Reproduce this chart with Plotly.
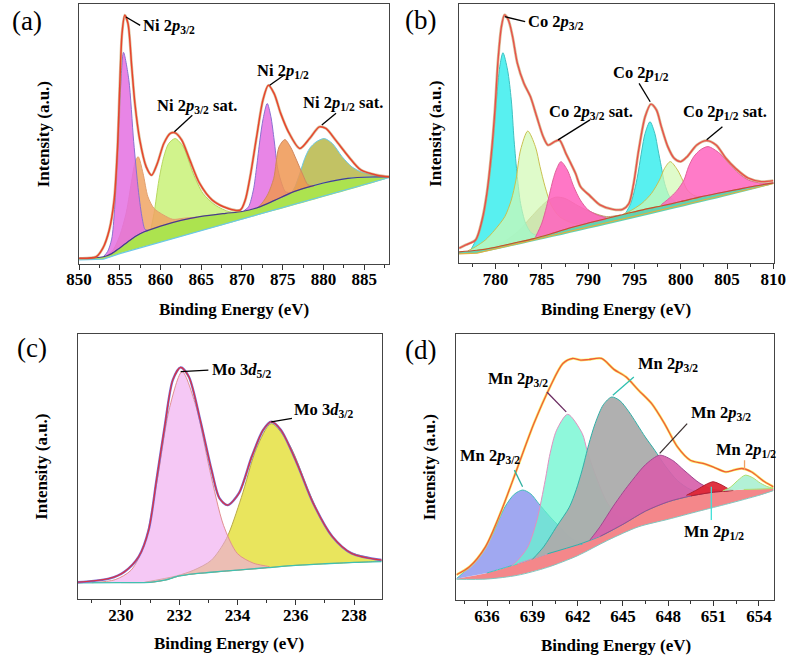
import plotly.graph_objects as go

FONT = "Liberation Serif"

# ================= (a) Ni 2p =================
NI_TICKS = [850, 855, 860, 865, 870, 875, 880, 885]
NI_ENV_X = [850.0, 852.1, 852.9, 853.7, 854.3, 854.7, 855.0, 855.27, 855.6, 856.0, 856.46, 856.85, 857.45,
            858.24, 858.9, 859.6, 860.4, 861.2, 861.8, 862.6, 863.6, 864.8, 866.35, 868.3, 869.8, 870.4,
            871.0, 871.8, 872.57, 873.24, 873.95, 874.75, 875.7, 877.1, 878.3, 879.5, 880.3, 881.5,
            883.1, 884.6, 886.6, 888.1]
NI_ENV_Y = [2.2, 2.8, 6.0, 13.1, 24.6, 43.8, 69.5, 88.7, 95.8, 92.6, 75.9, 61.8, 47.7, 37.4, 34.2, 38.7,
            46.4, 50.3, 50.5, 47.7, 40.0, 31.0, 24.6, 21.4, 20.8, 24.6, 33.6, 49.0, 63.1, 68.8, 65.6,
            58.0, 50.9, 44.5, 48.3, 52.8, 52.2, 47.7, 41.3, 36.2, 34.2, 33.6]
NI_LIN_X = [850, 853, 855, 888.1]
NI_LIN_Y = [1.6, 1.9, 4.0, 33.3]
NI_SHIR_X = [850, 852, 853, 854, 855, 856, 857, 858, 860, 862.5, 865, 868, 870, 872, 874, 876, 878, 880,
             883, 886, 888.1]
NI_SHIR_Y = [2.2, 2.4, 2.8, 4.0, 6.2, 8.6, 10.8, 12.4, 14.6, 16.8, 18.3, 19.5, 20.2, 21.8, 24.5, 27.4,
             29.5, 31.2, 33.0, 33.5, 33.5]
NI_P1_X = [853.0, 853.5, 854.0, 854.35, 854.7, 855.1, 855.45, 856.1, 856.7, 857.3, 857.75, 858.1, 858.5]
NI_P1_Y = [2.9, 4.8, 9.6, 21.0, 42.3, 68.6, 81.5, 71.0, 47.1, 27.6, 17.5, 13.3, 12.9]
NI_O1_X = [853.5, 854.2, 855.0, 855.8, 856.5, 856.9, 857.25, 857.85, 858.45, 859.2, 860.4, 861.5, 862.8, 864.5]
NI_O1_Y = [3.3, 5.5, 11.0, 20.0, 33.0, 39.5, 41.3, 34.9, 25.9, 21.4, 18.8, 17.2, 17.6, 18.0]
NI_S1_X = [858.8, 859.2, 859.8, 860.4, 861.0, 861.8, 862.8, 864.0, 865.2, 866.7, 868.5, 870.0]
NI_S1_Y = [13.3, 19.5, 32.3, 41.3, 46.4, 48.3, 45.1, 34.9, 27.2, 22.7, 20.1, 20.2]
NI_P2_X = [870.2, 870.8, 871.4, 871.8, 872.2, 872.6, 873.1, 873.55, 873.95, 874.35, 874.75, 875.35, 876.0]
NI_P2_Y = [20.4, 22.0, 28.5, 37.4, 47.7, 56.0, 61.8, 56.7, 47.7, 37.4, 32.3, 27.8, 27.4]
NI_O2_X = [872.0, 872.6, 873.2, 873.9, 874.55, 875.27, 875.95, 876.7, 877.5, 878.1, 878.8]
NI_O2_Y = [21.8, 24.0, 27.0, 33.0, 45.1, 47.9, 45.1, 40.0, 34.2, 30.5, 30.0]
NI_S2_X = [876.1, 876.5, 877.1, 877.7, 878.3, 879.1, 880.1, 881.1, 882.3, 883.5, 884.6, 886.2, 888.1]
NI_S2_Y = [27.6, 29.7, 34.9, 40.6, 44.5, 47.0, 48.3, 46.4, 41.3, 37.4, 35.5, 34.2, 33.5]

# ================= (b) Co 2p =================
CO_TICKS = [780, 785, 790, 795, 800, 805, 810]
CO_ENV_X = [776.06, 776.8, 777.84, 778.54, 779.06, 779.58, 779.93, 780.27, 780.63, 780.97, 781.39, 781.84,
            782.36, 783.06, 783.76, 784.45, 785.15, 785.67, 786.37, 786.9, 787.59, 788.63, 789.19, 790.2,
            791.28, 792.67, 793.72, 794.4, 794.9, 795.46, 796.15, 796.78, 797.38, 797.9, 798.6, 799.29,
            799.99, 800.69, 801.73, 802.78, 803.82, 804.87, 805.91, 807.3, 808.69, 810.0]
CO_ENV_Y = [5.8, 7.1, 9.0, 16.7, 27.0, 43.7, 59.1, 78.4, 91.2, 95.8, 93.8, 87.4, 77.1, 69.4, 64.3, 56.5,
            48.8, 45.6, 46.9, 47.5, 42.4, 34.7, 29.5, 26.0, 22.5, 20.8, 20.8, 23.0, 30.5, 43.7, 56.5, 61.4,
            59.1, 52.7, 45.0, 40.5, 39.2, 41.1, 45.6, 47.3, 45.6, 40.5, 36.6, 32.8, 31.5, 31.9]
CO_LIN_X = [776, 778, 810.05]
CO_LIN_Y = [3.6, 3.9, 30.8]
CO_SHIR_X = [776, 778, 780, 782, 784, 786, 788, 790, 792, 794, 796, 798, 800, 802, 804, 806, 808, 810.05]
CO_SHIR_Y = [4.4, 5.0, 6.2, 7.8, 9.4, 11.4, 13.6, 15.5, 17.3, 19.0, 20.7, 22.2, 23.8, 25.5, 27.0, 28.4,
             29.8, 31.0]
CO_C1_X = [777.3, 777.7, 778.2, 778.7, 779.2, 779.6, 780.1, 780.45, 780.8, 781.3, 781.7, 782.0, 782.35,
           782.7, 783.25, 783.9, 784.8, 785.6]
CO_C1_Y = [5.0, 7.7, 11.6, 18.0, 29.5, 41.1, 63.0, 75.8, 81.2, 74.5, 63.0, 47.5, 33.4, 23.1, 15.4, 11.6,
           10.6, 11.0]
CO_G1_X = [777.0, 777.85, 778.9, 779.9, 781.0, 781.7, 782.2, 782.7, 783.48, 784.3, 784.8, 785.35, 786.0,
           786.9, 788.3, 789.5]
CO_G1_Y = [4.8, 6.4, 9.0, 12.8, 18.0, 24.4, 32.1, 43.7, 51.0, 45.0, 37.3, 29.5, 22.5, 18.0, 15.5, 15.0]
CO_T_X = [779.5, 781.0, 782.5, 784.0, 785.5, 786.5, 787.5, 789.0, 790.5, 792.0, 793.5]
CO_T_Y = [6.0, 8.5, 12.5, 18.5, 23.8, 25.5, 25.0, 22.0, 19.5, 18.0, 18.6]
CO_P1_X = [784.3, 785.0, 785.5, 785.85, 786.2, 786.55, 787.06, 787.75, 788.45, 789.15, 790.0, 791.0, 792.0]
CO_P1_Y = [10.0, 15.5, 21.8, 27.0, 32.1, 36.0, 39.2, 36.0, 29.5, 24.4, 20.6, 18.6, 17.3]
CO_C2_X = [794.0, 794.6, 795.1, 795.45, 795.8, 796.15, 796.68, 797.2, 797.55, 797.9, 798.25, 798.8, 799.5]
CO_C2_Y = [19.0, 23.1, 29.5, 36.0, 43.7, 50.1, 54.6, 50.1, 43.7, 37.3, 30.9, 25.7, 23.3]
CO_G2_X = [793.8, 794.4, 795.8, 796.85, 797.7, 798.25, 798.87, 799.65, 800.2, 800.7, 801.4, 802.0]
CO_G2_Y = [19.0, 19.9, 23.1, 27.0, 32.1, 36.6, 39.2, 36.0, 32.1, 28.3, 26.2, 25.5]
CO_P2_X = [797.9, 798.95, 799.65, 800.35, 800.85, 801.4, 802.1, 802.95, 804.2, 805.2, 806.25, 807.3,
           808.7, 810.0]
CO_P2_Y = [22.6, 25.7, 28.3, 32.1, 37.3, 41.1, 43.7, 45.0, 42.4, 38.6, 34.7, 32.1, 30.9, 31.0]

# ================= (c) Mo 3d =================
MO_TICKS = [230, 232, 234, 236, 238]
MO_ENV_X = [228.51, 229.62, 230.12, 230.61, 230.95, 231.22, 231.5, 231.78, 232.05, 232.33, 232.72, 233.11,
            233.38, 233.66, 234.05, 234.49, 234.88, 235.16, 235.49, 236.04, 236.6, 237.26, 237.92, 238.95]
MO_ENV_Y = [6.4, 7.9, 10.4, 16.1, 26.1, 45.0, 65.1, 82.7, 87.4, 83.9, 67.6, 48.7, 38.1, 35.5, 40.0, 53.8,
            63.8, 66.9, 63.8, 51.3, 36.2, 23.6, 17.3, 14.8]
MO_BG_X = [228.5, 230, 231, 231.5, 232, 232.5, 233, 234, 235, 236, 237, 238, 238.95]
MO_BG_Y = [6.2, 6.3, 6.4, 7.2, 8.8, 9.6, 10.1, 11.0, 11.9, 12.8, 13.4, 13.9, 14.2]
MO_P_X = [229.0, 229.8, 230.35, 230.8, 231.23, 231.67, 232.1, 232.58, 233.05, 233.52, 234.0, 234.55, 235.1]
MO_P_Y = [6.25, 7.4, 11.0, 20.5, 44.0, 72.3, 85.8, 72.5, 48.6, 27.9, 17.2, 13.6, 12.2]
MO_Y_X = [230.8, 231.9, 232.5, 233.1, 233.62, 234.13, 234.65, 235.16, 235.8, 236.46, 237.1, 237.76,
          238.54, 238.95]
MO_Y_Y = [6.4, 8.8, 11.0, 14.7, 22.9, 38.3, 56.8, 66.2, 57.9, 40.3, 25.7, 18.3, 15.6, 14.6]

# ================= (d) Mn 2p =================
MN_TICKS = [636, 639, 642, 645, 648, 651, 654]
MN_ENV_X = [633.97, 634.83, 635.89, 636.96, 638.03, 639.1, 640.17, 641.02, 641.66, 642.2, 642.73, 643.58,
            644.4, 645.19, 646.04, 646.9, 647.75, 648.61, 649.46, 650.31, 650.96, 651.81, 652.4, 652.88,
            653.52, 654.38, 654.97]
MN_ENV_Y = [9.5, 12.5, 20.0, 33.8, 50.1, 66.4, 80.2, 89.0, 90.9, 90.3, 90.5, 90.9, 86.8, 84.0, 78.9, 73.9,
            66.4, 57.6, 52.6, 51.4, 50.1, 48.2, 49.0, 49.5, 48.2, 44.5, 42.6]
MN_LOW_X = [633.97, 636, 638, 640, 642, 644, 646, 648, 650, 652, 654, 654.97]
MN_LOW_Y = [7.8, 7.9, 9.3, 12.3, 16.7, 22.5, 27.5, 30.4, 33.4, 36.3, 39.4, 41.2]
MN_UP_X = [633.97, 636, 638, 640, 642, 643.5, 645, 646.5, 648, 649.5, 651, 653, 654.97]
MN_UP_Y = [8.0, 10.2, 13.6, 17.4, 20.8, 24.0, 28.5, 33.5, 37.0, 39.2, 40.6, 41.6, 42.0]
MN_B_X = [633.97, 634.6, 635.5, 636.33, 637.18, 637.8, 638.36, 638.9, 639.42, 640.17, 640.8, 641.5, 642.3]
MN_B_Y = [8.0, 11.3, 16.5, 24.5, 35.0, 39.8, 41.4, 39.9, 36.3, 31.3, 27.6, 23.5, 21.0]
MN_A_X = [637.6, 638.03, 638.7, 639.3, 639.85, 640.17, 640.6, 641.34, 642.3, 642.62, 643.1, 644.0, 644.85, 645.9]
MN_A_Y = [12.7, 15.0, 20.0, 30.1, 45.1, 55.1, 63.9, 69.9, 62.7, 56.4, 48.3, 36.3, 31.5, 32.2]
MN_G_X = [639.0, 639.74, 640.6, 641.45, 641.9, 642.3, 642.73, 643.16, 643.7, 644.25, 644.8, 645.4, 646.47,
          647.1, 647.8, 648.6, 649.5, 650.5]
MN_G_Y = [15.3, 20.0, 27.6, 35.0, 41.5, 49.0, 58.5, 66.5, 73.5, 76.4, 75.0, 70.8, 61.4, 56.4, 50.5, 45.0,
          41.5, 40.5]
MN_M_X = [642.8, 643.48, 644.33, 645.0, 645.62, 646.5, 647.43, 648.3, 649.03, 650.1, 651.0, 652.0]
MN_M_Y = [22.5, 27.6, 35.1, 40.5, 45.1, 51.0, 54.5, 52.5, 48.9, 43.9, 41.6, 41.1]
MN_R_X = [649.2, 649.9, 650.5, 650.96, 651.5, 652.0, 652.3]
MN_R_Y = [39.4, 41.5, 43.5, 44.5, 43.4, 41.8, 41.3]
MN_T_X = [651.6, 652.1, 652.6, 653.1, 653.6, 654.1, 654.6, 654.97]
MN_T_Y = [41.0, 42.4, 45.0, 47.0, 46.0, 44.0, 42.6, 42.1]

# peak labels: text, text-left x, text y, leader start (x, y), leader end (x, y), leader colour
LAB_A = [("Ni 2<i>p</i><sub>3/2</sub>", 857.6, 91.5, 855.75, 95.1, 857.5, 91.9, "black"),
         ("Ni 2<i>p</i><sub>3/2</sub> sat.", 859.3, 60.8, 863.9, 57.3, 861.7, 50.9, "black"),
         ("Ni 2<i>p</i><sub>1/2</sub>", 871.6, 74.3, 875.15, 72.7, 873.4, 68.8, "black"),
         ("Ni 2<i>p</i><sub>1/2</sub> sat.", 877.3, 62.1, 881.55, 58.0, 879.8, 53.5, "black")]
LAB_B = [("Co 2<i>p</i><sub>3/2</sub>", 783.3, 93.2, 781.0, 95.1, 783.2, 93.2, "black"),
         ("Co 2<i>p</i><sub>3/2</sub> sat.", 785.6, 58.5, 790.2, 55.3, 786.75, 47.6, "black"),
         ("Co 2<i>p</i><sub>1/2</sub>", 792.5, 73.3, 795.5, 69.4, 796.7, 62.3, "black"),
         ("Co 2<i>p</i><sub>1/2</sub> sat.", 800.0, 58.2, 804.5, 52.7, 802.8, 47.6, "black")]
LAB_C = [("Mo 3<i>d</i><sub>5/2</sub>", 233.05, 86.4, 232.05, 85.8, 233.0, 86.4, "black"),
         ("Mo 3<i>d</i><sub>3/2</sub>", 235.87, 71.4, 235.16, 66.9, 235.87, 68.2, "black")]
LAB_D = [("Mn 2<i>p</i><sub>3/2</sub>", 635.9, 83.3, 639.96, 78.3, 641.24, 70.8, "#6a2a60"),
         ("Mn 2<i>p</i><sub>3/2</sub>", 634.1, 54.1, 637.81, 48.9, 638.35, 42.6, "#2fb0a0"),
         ("Mn 2<i>p</i><sub>3/2</sub>", 645.85, 88.7, 645.72, 83.9, 644.33, 77.1, "#2fc0b0"),
         ("Mn 2<i>p</i><sub>3/2</sub>", 649.35, 70.2, 649.25, 66.4, 647.43, 55.2, "#3a3030"),
         ("Mn 2<i>p</i><sub>1/2</sub>", 651.06, 56.4, 653.05, 52.6, 653.05, 48.9, "#f0a060"),
         ("Mn 2<i>p</i><sub>1/2</sub>", 648.93, 25.7, 650.85, 42.6, 650.85, 30.1, "#40e0d8")]

fig = go.Figure()


def poly(cx, cy, bx, by):
    inner = [(x, y) for x, y in zip(bx, by) if cx[0] < x < cx[-1]][::-1]
    return list(cx) + [p[0] for p in inner], list(cy) + [p[1] for p in inner]


def add_comp(ax, cx, cy, bx, by, fill, line):
    px, py = poly(cx, cy, bx, by)
    fig.add_trace(go.Scatter(x=px, y=py, mode="lines", fill="toself", fillcolor=fill,
                             line=dict(color=line, width=1, shape="spline", smoothing=0.8),
                             xaxis="x" + ax, yaxis="y" + ax, hoverinfo="skip"))


def add_band(ax, ux, uy, lx, ly, fill):
    fig.add_trace(go.Scatter(x=list(ux) + list(lx)[::-1], y=list(uy) + list(ly)[::-1], mode="lines",
                             fill="toself", fillcolor=fill, line=dict(width=0, shape="spline", smoothing=0.6),
                             xaxis="x" + ax, yaxis="y" + ax, hoverinfo="skip"))


def add_line(ax, x, y, color, width, smooth=0.8):
    fig.add_trace(go.Scatter(x=x, y=y, mode="lines",
                             line=dict(color=color, width=width, shape="spline", smoothing=smooth),
                             xaxis="x" + ax, yaxis="y" + ax, hoverinfo="skip"))


# ---- panel a
add_band("", NI_SHIR_X, NI_SHIR_Y, NI_LIN_X, NI_LIN_Y, "rgba(168,226,70,0.95)")
add_line("", NI_LIN_X, NI_LIN_Y, "#6cc8e8", 1.2, 0)
add_comp("", NI_S1_X, NI_S1_Y, NI_SHIR_X, NI_SHIR_Y, "rgba(205,242,130,0.92)", "#b8d860")
add_comp("", NI_S2_X, NI_S2_Y, NI_SHIR_X, NI_SHIR_Y, "rgba(186,186,78,0.88)", "#6cc8e0")
add_comp("", NI_O1_X, NI_O1_Y, NI_SHIR_X, NI_SHIR_Y, "rgba(240,165,100,0.85)", "#e0a070")
add_comp("", NI_P1_X, NI_P1_Y, NI_SHIR_X, NI_SHIR_Y, "rgba(228,112,226,0.85)", "#8a70d0")
add_comp("", NI_P2_X, NI_P2_Y, NI_SHIR_X, NI_SHIR_Y, "rgba(228,112,226,0.85)", "#8a70d0")
add_comp("", NI_O2_X, NI_O2_Y, NI_SHIR_X, NI_SHIR_Y, "rgba(238,150,82,0.85)", "#d08860")
add_line("", NI_SHIR_X, NI_SHIR_Y, "#483d8b", 1.2)
add_line("", NI_ENV_X, NI_ENV_Y, "rgba(190,150,90,0.55)", 2.8)
add_line("", NI_ENV_X, NI_ENV_Y, "#e8442c", 1.5)

# ---- panel b
add_band("2", CO_SHIR_X, CO_SHIR_Y, CO_LIN_X, CO_LIN_Y, "rgba(80,205,170,0.9)")
add_line("2", CO_LIN_X, CO_LIN_Y, "#e0b040", 1.1, 0)
add_comp("2", CO_T_X, CO_T_Y, CO_SHIR_X, CO_SHIR_Y, "rgba(196,180,160,0.92)", "#c0a070")
add_comp("2", CO_C1_X, CO_C1_Y, CO_SHIR_X, CO_SHIR_Y, "rgba(70,238,238,0.9)", "#40c0c0")
add_comp("2", CO_G1_X, CO_G1_Y, CO_SHIR_X, CO_SHIR_Y, "rgba(210,250,180,0.7)", "#c8c050")
add_comp("2", CO_P1_X, CO_P1_Y, CO_SHIR_X, CO_SHIR_Y, "rgba(255,100,190,0.88)", "#e0609a")
add_comp("2", CO_C2_X, CO_C2_Y, CO_SHIR_X, CO_SHIR_Y, "rgba(70,238,238,0.9)", "#40c0c0")
add_comp("2", CO_G2_X, CO_G2_Y, CO_SHIR_X, CO_SHIR_Y, "rgba(210,250,180,0.7)", "#c8c050")
add_comp("2", CO_P2_X, CO_P2_Y, CO_SHIR_X, CO_SHIR_Y, "rgba(255,100,190,0.85)", "#e0609a")
add_line("2", CO_SHIR_X, CO_SHIR_Y, "#c05030", 1.1)
add_line("2", CO_ENV_X, CO_ENV_Y, "rgba(200,165,110,0.7)", 2.8)
add_line("2", CO_ENV_X, CO_ENV_Y, "#e8504a", 1.4)

# ---- panel c
add_comp("3", MO_Y_X, MO_Y_Y, MO_BG_X, MO_BG_Y, "rgba(232,228,84,0.95)", "#b8a848")
add_comp("3", MO_P_X, MO_P_Y, MO_BG_X, MO_BG_Y, "rgba(238,163,238,0.6)", "#e09090")
add_line("3", MO_BG_X, MO_BG_Y, "#40c0b0", 1.3)
add_line("3", MO_ENV_X, MO_ENV_Y, "#7a6ad0", 2.4)
add_line("3", MO_ENV_X, MO_ENV_Y, "#e0303a", 1.1)

# ---- panel d
add_band("4", MN_UP_X, MN_UP_Y, MN_LOW_X, MN_LOW_Y, "rgba(244,135,138,1)")
add_comp("4", MN_B_X, MN_B_Y, MN_UP_X, MN_UP_Y, "rgba(150,158,240,0.9)", "#40c0b8")
add_comp("4", MN_A_X, MN_A_Y, MN_UP_X, MN_UP_Y, "rgba(100,245,205,0.72)", "#e090c0")
add_comp("4", MN_G_X, MN_G_Y, MN_UP_X, MN_UP_Y, "rgba(172,172,172,0.95)", "#30b0a8")
add_comp("4", MN_M_X, MN_M_Y, MN_UP_X, MN_UP_Y, "rgba(215,95,170,0.92)", "#a04890")
add_comp("4", MN_R_X, MN_R_Y, MN_UP_X, MN_UP_Y, "rgba(222,40,55,0.95)", "#b02030")
add_comp("4", MN_T_X, MN_T_Y, MN_UP_X, MN_UP_Y, "rgba(170,240,210,0.9)", "#b0e070")
add_line("4", MN_LOW_X, MN_LOW_Y, "#80c8c0", 1.0)
add_line("4", MN_ENV_X, MN_ENV_Y, "rgba(245,235,40,0.7)", 2.6)
add_line("4", MN_ENV_X, MN_ENV_Y, "#f05a3c", 1.3)

TITLE_FONT = dict(family=FONT, size=17, color="black", weight="bold")


def xax(domain, rng, ticks, minor, anchor):
    return dict(domain=domain, range=rng, anchor=anchor, tickmode="array", tickvals=ticks,
                ticks="outside", ticklen=5, tickwidth=1.2, tickcolor="#333", ticklabelstandoff=-5,
                minor=dict(tick0=ticks[0], dtick=minor, ticks="outside", ticklen=3, tickwidth=1.2,
                           tickcolor="#333"),
                showline=True, mirror=True, linecolor="#444", linewidth=1.2, showgrid=False,
                zeroline=False, tickfont=dict(family=FONT, size=17, color="black", weight="bold"))


def yax(domain, anchor, standoff):
    return dict(domain=domain, range=[0, 100], anchor=anchor, showticklabels=False, ticks="",
                title=dict(text="Intensity (a.u.)", font=TITLE_FONT, standoff=standoff),
                showline=True, mirror=True, linecolor="#444", linewidth=1.2, showgrid=False,
                zeroline=False)


fig.update_layout(
    width=803, height=659, margin=dict(l=0, r=0, t=0, b=0),
    paper_bgcolor="white", plot_bgcolor="white", showlegend=False,
    xaxis=xax([0.0851, 0.4844], [850, 888.1], NI_TICKS, 2.5, "y"),
    yaxis=yax([0.5994, 0.9935], "x", 24),
    xaxis2=xax([0.5741, 0.9788], [776.06, 810.02], CO_TICKS, 2.5, "y2"),
    yaxis2=yax([0.6005, 0.9939], "x2", 12),
    xaxis3=xax([0.0831, 0.4745], [228.51, 238.95], MO_TICKS, 1, "y3"),
    yaxis3=yax([0.0906, 0.4932], "x3", 24),
    xaxis4=xax([0.5707, 0.9788], [633.97, 654.97], MN_TICKS, 1.5, "y4"),
    yaxis4=yax([0.0895, 0.4927], "x4", 15),
)

ann = []
shapes = []
for ax, labs in (("", LAB_A), ("2", LAB_B), ("3", LAB_C), ("4", LAB_D)):
    for txt, tx, ty, x0, y0, x1, y1, col in labs:
        ann.append(dict(text=txt, x=tx, y=ty, xref="x" + ax, yref="y" + ax, xanchor="left",
                        yanchor="middle", showarrow=False,
                        font=dict(family=FONT, size=16.5, color="black", weight="bold")))
        shapes.append(dict(type="line", x0=x0, y0=y0, x1=x1, y1=y1, xref="x" + ax, yref="y" + ax,
                           line=dict(color=col, width=1.3)))

for xc, yc in ((0.2848, 0.5296), (0.7762, 0.5296), (0.2781, 0.0238), (0.7762, 0.0212)):
    ann.append(dict(text="Binding Energy (eV)", x=xc, y=yc, xref="paper", yref="paper", showarrow=False,
                    xanchor="center", yanchor="middle", font=TITLE_FONT))
for t, xc, yc in (("(a)", 0.0175, 0.9681), ("(b)", 0.5243, 0.9697), ("(c)", 0.0250, 0.4719),
                  ("(d)", 0.5243, 0.4689)):
    ann.append(dict(text=t, x=xc, y=yc, xref="paper", yref="paper", showarrow=False,
                    xanchor="center", yanchor="middle",
                    font=dict(family=FONT, size=27, color="black")))

fig.update_layout(annotations=ann, shapes=shapes)
fig.write_html("out.html", config={"displayModeBar": False},
               post_script="document.body.style.margin='0px';")
